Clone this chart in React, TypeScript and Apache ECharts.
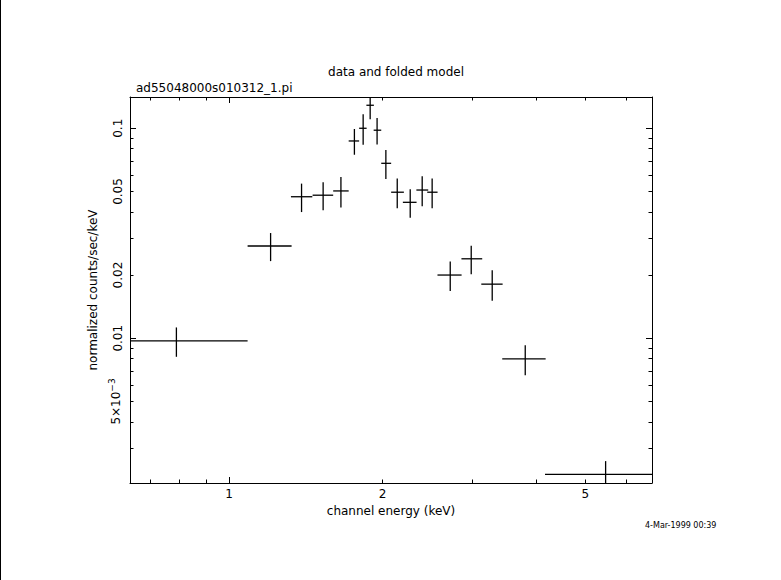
import React, { useEffect, useRef } from "react";
import * as echarts from "echarts";

// ---- data ----
const energyCenter = [0.788, 1.206, 1.387, 1.529, 1.657, 1.761, 1.832, 1.891, 1.951, 2.03, 2.137, 2.266, 2.392, 2.502, 2.715, 2.985, 3.282, 3.81, 5.478];
const energyLow = [0.489, 1.087, 1.322, 1.458, 1.6, 1.716, 1.799, 1.859, 1.921, 1.988, 2.079, 2.192, 2.33, 2.447, 2.563, 2.856, 3.124, 3.434, 4.166];
const energyHigh = [1.087, 1.326, 1.456, 1.6, 1.716, 1.799, 1.861, 1.923, 1.988, 2.079, 2.202, 2.332, 2.458, 2.564, 2.858, 3.137, 3.44, 4.178, 6.79];
const rate = [0.00971, 0.0275, 0.0472, 0.048, 0.0503, 0.087, 0.1, 0.1287, 0.0979, 0.0681, 0.0496, 0.0444, 0.0508, 0.0496, 0.02, 0.0239, 0.0181, 0.00797, 0.00225];
const rateErr = [0.00155, 0.0042, 0.0073, 0.0073, 0.0083, 0.0122, 0.0165, 0.0183, 0.0141, 0.0108, 0.008, 0.0069, 0.0083, 0.008, 0.0032, 0.0037, 0.003, 0.0013, 0.00035];

const xRange = [0.639, 6.755];
const yRange = [0.002045, 0.1409];

const xLabelValues = [1, 2, 5];
const xLabelTexts = ["1", "2", "5"];
const xMajorTicks = [1];
const xMinorTicks = [0.7, 0.8, 0.9, 2, 3, 4, 5, 6];

const yLabelValues = [0.005, 0.01, 0.02, 0.05, 0.1];
const yLabelTexts = ["{a|5×10}{b|−3}", "0.01", "0.02", "0.05", "0.1"];
const yMajorTicks = [0.01, 0.1];
const yMinorTicks = [0.003, 0.004, 0.005, 0.006, 0.007, 0.008, 0.009, 0.02, 0.03, 0.04, 0.05, 0.06, 0.07, 0.08, 0.09];

const titleText = "data and folded model";
const fileText = "ad55048000s010312_1.pi";
const dateText = "4-Mar-1999 00:39";
const xName = "channel energy (keV)";
const yName = "normalized counts/sec/keV";

const lg = (v: number) => Math.log10(v);
const FONT = "DejaVu Sans";

export default function App() {
  const ref = useRef<HTMLDivElement>(null);
  useEffect(() => {
    if (!ref.current) return;
    const chart = echarts.init(ref.current, undefined, { renderer: "svg" });
    const xMin = lg(xRange[0]);
    const xMax = lg(xRange[1]);
    const yMin = lg(yRange[0]);
    const yMax = lg(yRange[1]);
    const clamp = (v: number, a: number, b: number) => Math.max(a, Math.min(b, v));

    const data = energyCenter.map((e, i) => [
      lg(e),
      lg(rate[i]),
      clamp(lg(energyLow[i]), xMin, xMax),
      clamp(lg(energyHigh[i]), xMin, xMax),
      clamp(lg(Math.max(rate[i] - rateErr[i], 1e-9)), yMin, yMax),
      clamp(lg(rate[i] + rateErr[i]), yMin, yMax),
    ]);

    const findLabel = (v: number, vals: number[], texts: string[]) => {
      for (let i = 0; i < vals.length; i++) {
        if (Math.abs(lg(vals[i]) - v) < 1e-6) return texts[i];
      }
      return "";
    };

    const line = { show: true, onZero: false, lineStyle: { color: "#000", width: 1 } };
    const noLine = { show: false, onZero: false };
    const common = { type: "value" as const, splitLine: { show: false } };

    const mkX = (pos: string, major: boolean, labels: boolean) => ({
      ...common,
      min: xMin,
      max: xMax,
      position: pos,
      offset: 0,
      axisLine: major ? line : noLine,
      axisTick: {
        show: true,
        inside: true,
        length: major ? 6 : 3.5,
        lineStyle: { color: "#000", width: 1 },
        customValues: (major ? xMajorTicks : xMinorTicks).map(lg),
      },
      axisLabel: labels
        ? {
            show: true,
            margin: 5,
            color: "#000",
            fontFamily: FONT,
            fontSize: 12,
            customValues: xLabelValues.map(lg),
            formatter: (v: number) => findLabel(v, xLabelValues, xLabelTexts),
          }
        : { show: false },
      name: labels ? xName : "",
      nameLocation: "middle",
      nameGap: 22,
      nameTextStyle: { color: "#000", fontFamily: FONT, fontSize: 12 },
    });

    const mkY = (pos: string, major: boolean, labels: boolean) => ({
      ...common,
      min: yMin,
      max: yMax,
      position: pos,
      offset: 0,
      axisLine: major ? line : noLine,
      axisTick: {
        show: true,
        inside: true,
        length: major ? 6 : 3.5,
        lineStyle: { color: "#000", width: 1 },
        customValues: (major ? yMajorTicks : yMinorTicks).map(lg),
      },
      axisLabel: labels
        ? {
            show: true,
            rotate: 90,
            margin: 6,
            color: "#000",
            fontFamily: FONT,
            fontSize: 12,
            customValues: yLabelValues.map(lg),
            formatter: (v: number) => findLabel(v, yLabelValues, yLabelTexts),
            rich: {
              a: { fontFamily: FONT, fontSize: 12, color: "#000" },
              b: { fontFamily: FONT, fontSize: 9, color: "#000", verticalAlign: "top", padding: [0, 0, 8, 0] },
            },
          }
        : { show: false },
      name: labels ? yName : "",
      nameLocation: "middle",
      nameRotate: 90,
      nameGap: 25,
      nameTextStyle: { color: "#000", fontFamily: FONT, fontSize: 12 },
    });

    chart.setOption({
      animation: false,
      backgroundColor: "#fff",
      title: [
        {
          text: titleText,
          left: 391,
          textAlign: "center",
          top: 61,
          textStyle: { color: "#000", fontFamily: FONT, fontSize: 12, fontWeight: "normal" },
        },
        {
          text: fileText,
          left: 131,
          top: 77,
          textStyle: { color: "#000", fontFamily: FONT, fontSize: 12, fontWeight: "normal" },
        },
      ],
      grid: { left: 130, right: 129, top: 97, bottom: 97, containLabel: false },
      xAxis: [mkX("bottom", true, true), mkX("bottom", false, false), mkX("top", true, false), mkX("top", false, false)],
      yAxis: [mkY("left", true, true), mkY("left", false, false), mkY("right", true, false), mkY("right", false, false)],
      graphic: [
        {
          type: "line",
          shape: { x1: 0.5, y1: 0, x2: 0.5, y2: 580 },
          style: { stroke: "#000", lineWidth: 1 },
        },
        {
          type: "text",
          x: 645,
          y: 521,
          style: { text: dateText, fill: "#000", font: `8px "${FONT}"` },
        },
      ],
      series: [
        {
          type: "custom",
          xAxisIndex: 0,
          yAxisIndex: 0,
          data,
          encode: { x: [0, 2, 3], y: [1, 4, 5] },
          renderItem: (params: any, api: any) => {
            const c = api.coord([api.value(0), api.value(1)]);
            const l = api.coord([api.value(2), api.value(1)]);
            const r = api.coord([api.value(3), api.value(1)]);
            const b = api.coord([api.value(0), api.value(4)]);
            const t = api.coord([api.value(0), api.value(5)]);
            const st = { stroke: "#000", lineWidth: 1.3 };
            return {
              type: "group",
              children: [
                { type: "line", shape: { x1: l[0], y1: c[1], x2: r[0], y2: c[1] }, style: st },
                { type: "line", shape: { x1: c[0], y1: t[1], x2: c[0], y2: b[1] }, style: st },
              ],
            };
          },
        },
      ],
    } as any);
    return () => chart.dispose();
  }, []);
  return (
    <div
      ref={ref}
      style={{ position: "absolute", left: 0, top: 0, width: 781, height: 580, background: "#fff" }}
    />
  );
}
